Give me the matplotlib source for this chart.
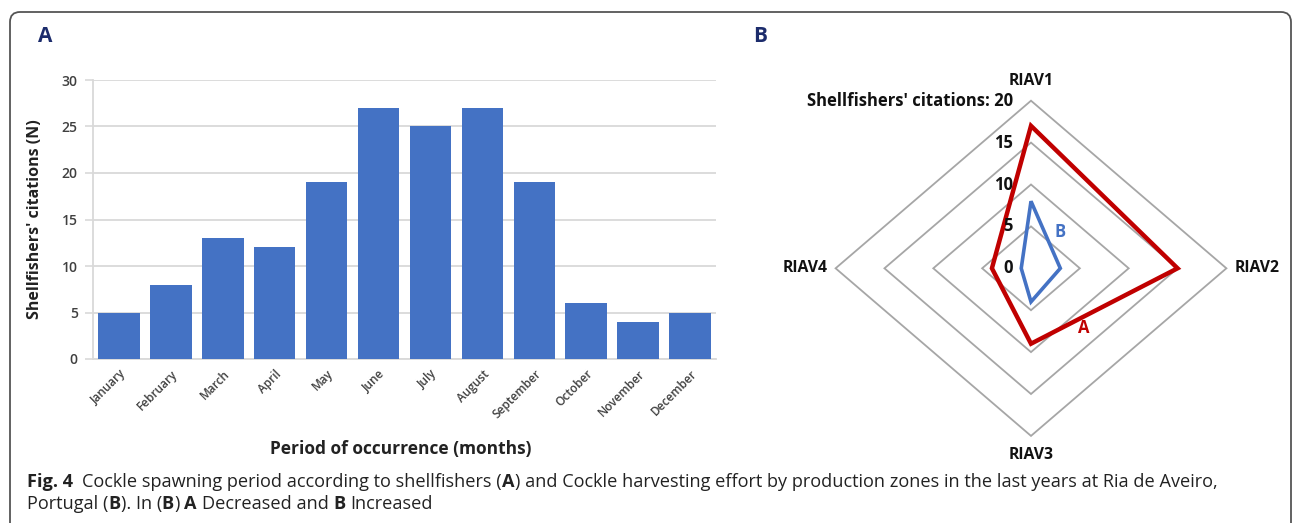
import matplotlib
matplotlib.use("Agg")

import matplotlib.pyplot as plt
import numpy as np
from matplotlib.patches import FancyBboxPatch, Polygon
from matplotlib.transforms import IdentityTransform


W, H = 1293, 523
FONT = "Open Sans"
plt.rcParams["font.family"] = [FONT, "DejaVu Sans"]

# --- data -------------------------------------------------------------------
months = ["January", "February", "March", "April", "May", "June", "July",
          "August", "September", "October", "November", "December"]
citations = [5, 8, 13, 12, 19, 27, 25, 27, 19, 6, 4, 5]

zones = ["RIAV1", "RIAV2", "RIAV3", "RIAV4"]
decreased = [17, 15, 9, 4]    # series A
increased = [8, 3, 4, 1]      # series B
radar_ticks = [0, 5, 10, 15, 20]
radar_tick_labels = ["0", "5", "10", "15", "Shellfishers' citations: 20"]

caption_lines = [
    [("Fig. 4", True), ("  Cockle spawning period according to shellfishers (", False),
     ("A", True), (") and Cockle harvesting effort by production zones in the last years at Ria de Aveiro,", False)],
    [("Portugal (", False), ("B", True), ("). In (", False), ("B", True), (") ", False),
     ("A", True), (" Decreased and ", False), ("B", True), (" Increased", False)],
]

BAR_BLUE = "#4472c4"
RED = "#c00000"
NAVY = "#1c2c6c"
GRID = "#d9d9d9"
TEXT_GRAY = "#404040"


def px_axes(fig, left, top, right, bottom):
    return fig.add_axes([left / W, 1 - bottom / H, (right - left) / W, (bottom - top) / H])


def draw_runs(fig, x, y, runs, size):
    renderer = fig.canvas.get_renderer()

    def width(s, bold):
        t = fig.text(0, 0, s, fontsize=size, fontweight="bold" if bold else "normal")
        w = t.get_window_extent(renderer).width
        t.remove()
        return w

    for text, bold in runs:
        sp = width("x x", bold) - width("xx", bold)
        lead = len(text) - len(text.lstrip(" "))
        trail = len(text) - len(text.rstrip(" "))
        x += lead * sp
        core = text.strip(" ")
        fig.text(x / W, 1 - y / H, core, fontsize=size, va="baseline", ha="left",
                 fontweight="bold" if bold else "normal", color="#222222")
        x += width(core, bold) + trail * sp


fig = plt.figure(figsize=(W / 100, H / 100), dpi=100)

# rounded frame, open at the bottom
frame = FancyBboxPatch((10, -30), 1281, H - 12 + 30,
                       boxstyle="round,pad=0,rounding_size=10",
                       transform=IdentityTransform(), fill=False,
                       edgecolor="#555555", linewidth=1.3)
fig.patches.append(frame)

# --- panel A: bars -------------------------------------------------------------
ax = px_axes(fig, 93, 80, 716, 359)
x = np.arange(len(months))
ax.bar(x, citations, width=0.8, color=BAR_BLUE, zorder=3)
ax.set_xlim(-0.5, len(months) - 0.5)
ax.set_ylim(0, 30)
ax.set_yticks(np.arange(0, 31, 5))
ax.yaxis.grid(True, color=GRID, linewidth=1.3)
ax.set_axisbelow(True)
for side in ("top", "right"):
    ax.spines[side].set_visible(False)
for side in ("left", "bottom"):
    ax.spines[side].set_color(GRID)
    ax.spines[side].set_linewidth(1.3)
ax.tick_params(axis="y", length=6, width=1.2, color=GRID, labelcolor=TEXT_GRAY,
               labelsize=10, pad=5)
ax.tick_params(axis="x", length=0, pad=6)
for lab in ax.get_yticklabels():
    lab.set_fontweight("semibold")
ax.set_xticks(x)
ax.set_xticklabels(months, rotation=45, ha="right", va="top",
                   rotation_mode="anchor", fontsize=8.5, color=TEXT_GRAY,
                   fontweight="semibold")

fig.text(35 / W, 1 - 219 / H, "Shellfishers' citations (N)", rotation=90,
         ha="center", va="center", fontsize=11.5, fontweight="bold", color="#222222")
fig.text(401 / W, 1 - 449 / H, "Period of occurrence (months)", ha="center",
         va="center", fontsize=12.5, fontweight="bold", color="#222222")

fig.text(45 / W, 1 - 36 / H, "A", ha="center", va="center", fontsize=15,
         fontweight="bold", color=NAVY)
fig.text(760 / W, 1 - 36 / H, "B", ha="center", va="center", fontsize=15,
         fontweight="bold", color=NAVY)

# --- panel B: radar ------------------------------------------------------------
rx = px_axes(fig, 790, 60, 1272, 476)
cx, cy = 1031.0, 268.3       # centre, pixels
sx, sy = 9.77, 8.38          # pixels per citation unit
rx.set_xlim((790 - cx) / sx, (1272 - cx) / sx)
rx.set_ylim((cy - 476) / sy, (cy - 60) / sy)
rx.axis("off")

angles = np.deg2rad([90, 0, -90, 180])
cos, sin = np.cos(angles), np.sin(angles)

for r in radar_ticks[1:]:
    rx.add_patch(Polygon(np.column_stack([r * cos, r * sin]), closed=True, fill=False,
                         edgecolor="#a6a6a6", linewidth=1.3))

for vals, color, lw in ((decreased, RED, 3.2), (increased, BAR_BLUE, 2.6)):
    v = np.asarray(vals, dtype=float)
    rx.add_patch(Polygon(np.column_stack([v * cos, v * sin]), closed=True, fill=False,
                         edgecolor=color, linewidth=lw, joinstyle="miter", zorder=3))

for t, lab in zip(radar_ticks, radar_tick_labels):
    rx.text(-1.85, t, lab, ha="right", va="center", fontsize=12, fontweight="bold",
            color="#111111", zorder=4)

for name, c, s in zip(zones, cos, sin):
    rx.text(23.1 * c, 22.3 * s, name, ha="center", va="center", fontsize=11.3,
            fontweight="bold", color="#111111", clip_on=False)

rx.text(5.35, -7.16, "A", ha="center", va="center", fontsize=12,
        fontweight="bold", color=RED)
rx.text(2.97, 4.3, "B", ha="center", va="center", fontsize=12,
        fontweight="bold", color=BAR_BLUE)

# --- caption -------------------------------------------------------------------
for line, base in zip(caption_lines, (487, 509)):
    draw_runs(fig, 27, base, line, 13.1)

fig.savefig("out.png", dpi=100)
